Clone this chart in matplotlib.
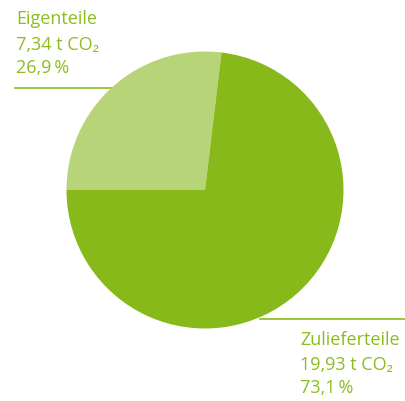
import matplotlib.pyplot as plt

labels = ['Eigenteile', 'Zulieferteile']
tonnes = ['7,34', '19,93']
shares = [26.9, 73.1]
share_labels = ['26,9\u2009%', '73,1\u2009%']
colors = ['#b8d478', '#88b91b']

TEXT = '#8cbd1f'
LINE = '#9cc63c'
H = 402

fig = plt.figure(figsize=(4.05, 4.02), dpi=100)
ax = fig.add_axes([0, 0, 1, 1])

ax.pie(shares, colors=colors, startangle=180, counterclock=False,
       center=(205, H - 191), radius=138.5,
       wedgeprops={'linewidth': 0, 'zorder': 2})

# leader lines sit behind the pie
ax.plot([15, 160], [H - 89, H - 89], color=LINE, lw=1.4, zorder=1)
ax.plot([260, 405], [H - 320, H - 320], color=LINE, lw=1.4, zorder=1)

fam = ['Open Sans', 'DejaVu Sans']
blocks = [(16, [24, 50, 73]), (300, [345, 370, 393])]
for i, (x, ys) in enumerate(blocks):
    lines = [labels[i], tonnes[i] + ' t CO\u2082', share_labels[i]]
    for txt, y in zip(lines, ys):
        ax.text(x, H - y, txt, color=TEXT, fontsize=13, family=fam,
                ha='left', va='baseline')

ax.set_xlim(0, 405)
ax.set_ylim(0, H)
ax.set_aspect('auto')
ax.axis('off')

fig.savefig('out.png', dpi=100)
